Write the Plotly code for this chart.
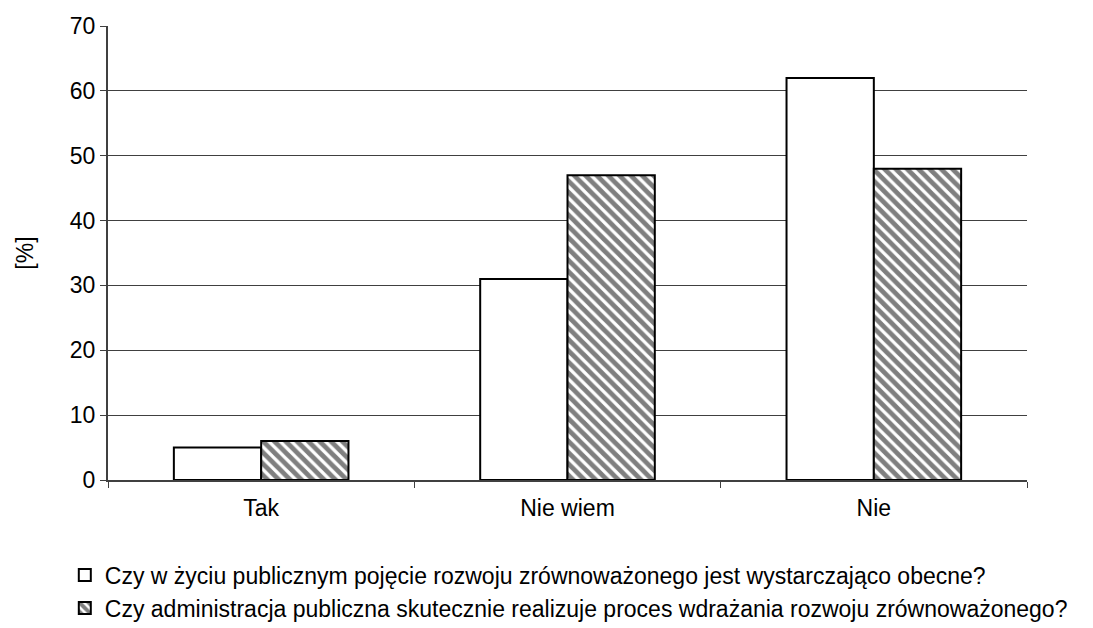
import plotly.graph_objects as go

categories = ["Tak", "Nie wiem", "Nie"]
series1_name = "Czy w życiu publicznym pojęcie rozwoju zrównoważonego jest wystarczająco obecne?"
series2_name = "Czy administracja publiczna skutecznie realizuje proces wdrażania rozwoju zrównoważonego?"
series1 = [5, 31, 62]
series2 = [6, 47, 48]
y_ticks = [0, 10, 20, 30, 40, 50, 60, 70]

FONT = 23

fig = go.Figure()
fig.add_trace(go.Bar(
    x=categories, y=series1, name=series1_name, legendgroup="a",
    marker=dict(color="white", line=dict(color="black", width=2)),
))
fig.add_trace(go.Bar(
    x=categories, y=series2, name=series2_name, legendgroup="b",
    marker=dict(color="white", line=dict(color="black", width=2),
                pattern=dict(shape="\\", fgcolor="black", bgcolor="white", size=8, solidity=0.6)),
))

fig.update_layout(
    width=1085, height=620,
    margin=dict(l=100, r=66, t=18, b=148, autoexpand=False),
    plot_bgcolor="white", paper_bgcolor="white",
    font=dict(family="Liberation Sans, Arial, sans-serif", size=FONT, color="black"),
    barmode="group", bargap=0.43, bargroupgap=0,
    showlegend=True,
    legend=dict(x=-0.047, y=-0.162, xanchor="left", yanchor="top",
                orientation="v", traceorder="grouped", tracegroupgap=0,
                font=dict(size=FONT), bgcolor="rgba(0,0,0,0)"),
    xaxis=dict(type="category", showline=True, linecolor="#404040", linewidth=2,
               ticks="outside", tickson="boundaries", ticklen=6, tickcolor="#404040",
               ticklabelstandoff=6,
               showgrid=False, tickfont=dict(size=FONT)),
    yaxis=dict(range=[0, 70], tickvals=y_ticks, showline=True, linecolor="#404040", linewidth=2,
               ticks="outside", ticklen=6, tickcolor="#404040",
               showgrid=True, gridcolor="#404040", gridwidth=1, zeroline=False,
               title=dict(text="[%]", font=dict(size=FONT), standoff=30), tickfont=dict(size=FONT)),
)

fig.write_html("out.html")
